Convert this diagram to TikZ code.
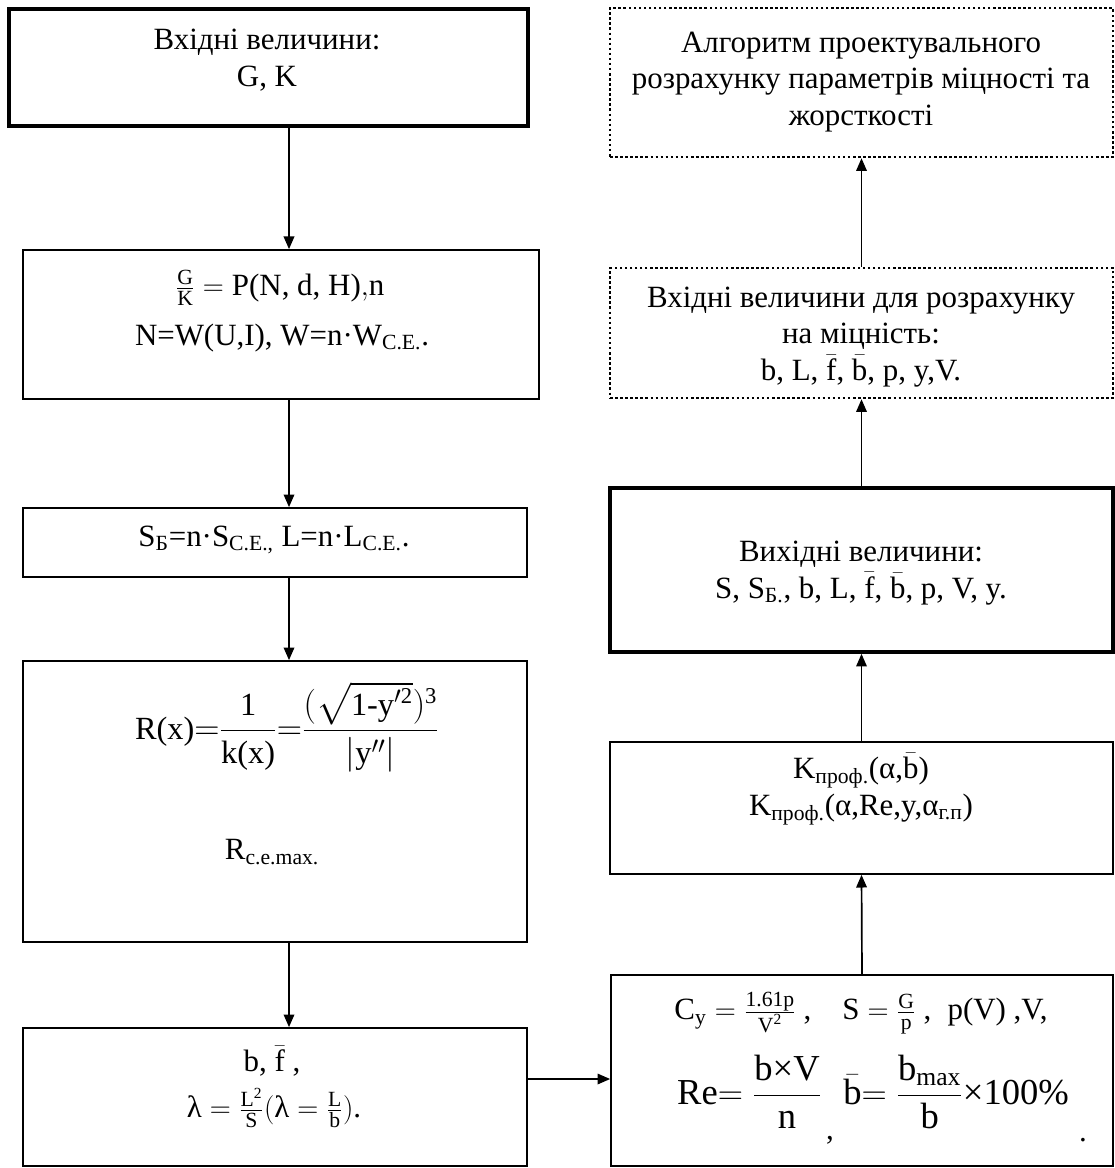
\documentclass[tikz,border=0pt]{standalone}
\usepackage{amsmath}
\usepackage{fontspec}
\setmainfont{Liberation Serif}
\setmathrm{Liberation Serif}
\usepackage{tikz}
\usetikzlibrary{positioning,fit,calc,arrows.meta}
\tikzset{box/.style={draw, line width=1.2pt, inner sep=0pt},
         thickbox/.style={draw, line width=2.6pt, inner sep=0pt},
         dotbox/.style={draw, line width=1.8pt, dash pattern=on 1.8pt off 1.8pt, inner sep=0pt},
         txt/.style={align=center, inner sep=0pt, font=\fontsize{22}{26}\selectfont},
         edge/.style={-{Triangle[length=9pt,width=7.5pt]}, line width=1.2pt}
}
\newcommand{\obar}[1]{$\smash{\bar{\text{#1}}}$}

\begin{document}
\begin{tikzpicture}[x=0.025cm,y=-0.025cm]
    \useasboundingbox (0,0) rectangle (1115,1168);
    \node[thickbox, fit={(9,9) (528,126)}]       (Inp) {};
    \node[box,      fit={(23,250) (539,399)}]    (Rat) {};
    \node[box,      fit={(23,508) (527,577)}]    (Ar)  {};
    \node[box,      fit={(23,661) (527,942)}]    (Rad) {};
    \node[box,      fit={(23,1028) (527,1166)}]  (Asp) {};
    \node[box,      fit={(611,975) (1113,1166)}] (Aer) {};
    \node[box,      fit={(610,742) (1113,874)}]  (Kpr) {};
    \node[thickbox, fit={(610,488) (1113,652)}]  (Out) {};
    \node[dotbox,   fit={(610,268) (1113,398)}]  (Str) {};
    \node[dotbox,   fit={(610,8) (1113,157)}]    (Alg) {};

    \node[txt] (InpT)  at (267,60)  {Вхідні величини:\\G, K};
    \node[txt] (RatT)  at (280,288) {$\frac{\text{G}}{\text{K}}=\text{P(N, d, H)},\!\text{n}$};
    \node[txt] (RatT2) at (282,338) {N=W(U,I), W=n·W\textsubscript{C.E.}.};
    \node[txt] (ArT)   at (274,540) {S\textsubscript{Б}=n·S\textsubscript{C.E.,} L=n·L\textsubscript{C.E.}.};
    \node[txt, font=\fontsize{23}{27}\selectfont] (RadT) at (287,727)
        {$\text{R(x)}{=}\dfrac{\text{1}}{\text{k(x)}}{=}\dfrac{(\sqrt{\text{1-y}'^{\text{2}}})^{\text{3}}}{\left|\text{y}''\right|}$};
    \node[txt] (RmT)   at (272,852) {R\textsubscript{c.e.max.}};
    \node[txt] (AspT)  at (272,1063) {b, \obar{f} ,};
    \node[txt] (AspT2) at (274,1108) {$\text{λ} = \frac{\text{L}^{\text{2}}}{\text{S}}(\text{λ} = \frac{\text{L}}{\text{b}})$.};
    \node[txt] (CyT)   at (861,1013) {$\text{C}_{\text{y}} = \frac{\text{1.61p}}{\text{V}^{\text{2}}}$ ,\quad $\text{S} = \frac{\text{G}}{\text{p}}$ ,\; p(V) ,V,};
    \node[txt, font=\fontsize{26}{30}\selectfont] (ReT) at (873,1092)
        {Re$=\dfrac{\text{b×V}}{\text{n}}$\hspace{0.6em}\obar{b}$=\dfrac{\text{b}_{\text{max}}}{\text{b}}$×100\%};
    \node[txt] (ReC)   at (830,1140) {,};
    \node[txt] (ReD)   at (1083,1140) {.};
    \node[txt] (KprT)  at (861,791) {K\textsubscript{проф.}(α,\obar{b})\\K\textsubscript{проф.}(α,Re,y,α\textsubscript{г.п})};
    \node[txt] (OutT)  at (861,573) {Вихідні величини:\\S, S\textsubscript{Б.}, b, L, \obar{f}, \obar{b}, p, V, y.};
    \node[txt] (StrT)  at (861,337) {Вхідні величини для розрахунку\\на міцність:\\b, L, \obar{f}, \obar{b}, p, y,V.};
    \node[txt] (AlgT)  at (861,82)  {Алгоритм проектувального\\розрахунку параметрів міцності та\\жорсткості};

    \coordinate (lx) at (289,0);
    \coordinate (ey) at (0,1079);

    \draw[edge] (Inp.south -| lx) -- (Rat.north -| lx);
    \draw[edge] (Rat.south -| lx) -- (Ar.north -| lx);
    \draw[edge] (Ar.south -| lx) -- (Rad.north -| lx);
    \draw[edge] (Rad.south -| lx) -- (Asp.north -| lx);
    \draw[edge] (Asp.east |- ey) -- (Aer.west |- ey);
    \draw[edge] (Aer.north) -- (Kpr.south);
    \draw[edge] (Kpr.north) -- (Out.south);
    \draw[edge] (Out.north) -- (Str.south);
    \draw[edge] (Str.north) -- (Alg.south);
\end{tikzpicture}
\end{document}
